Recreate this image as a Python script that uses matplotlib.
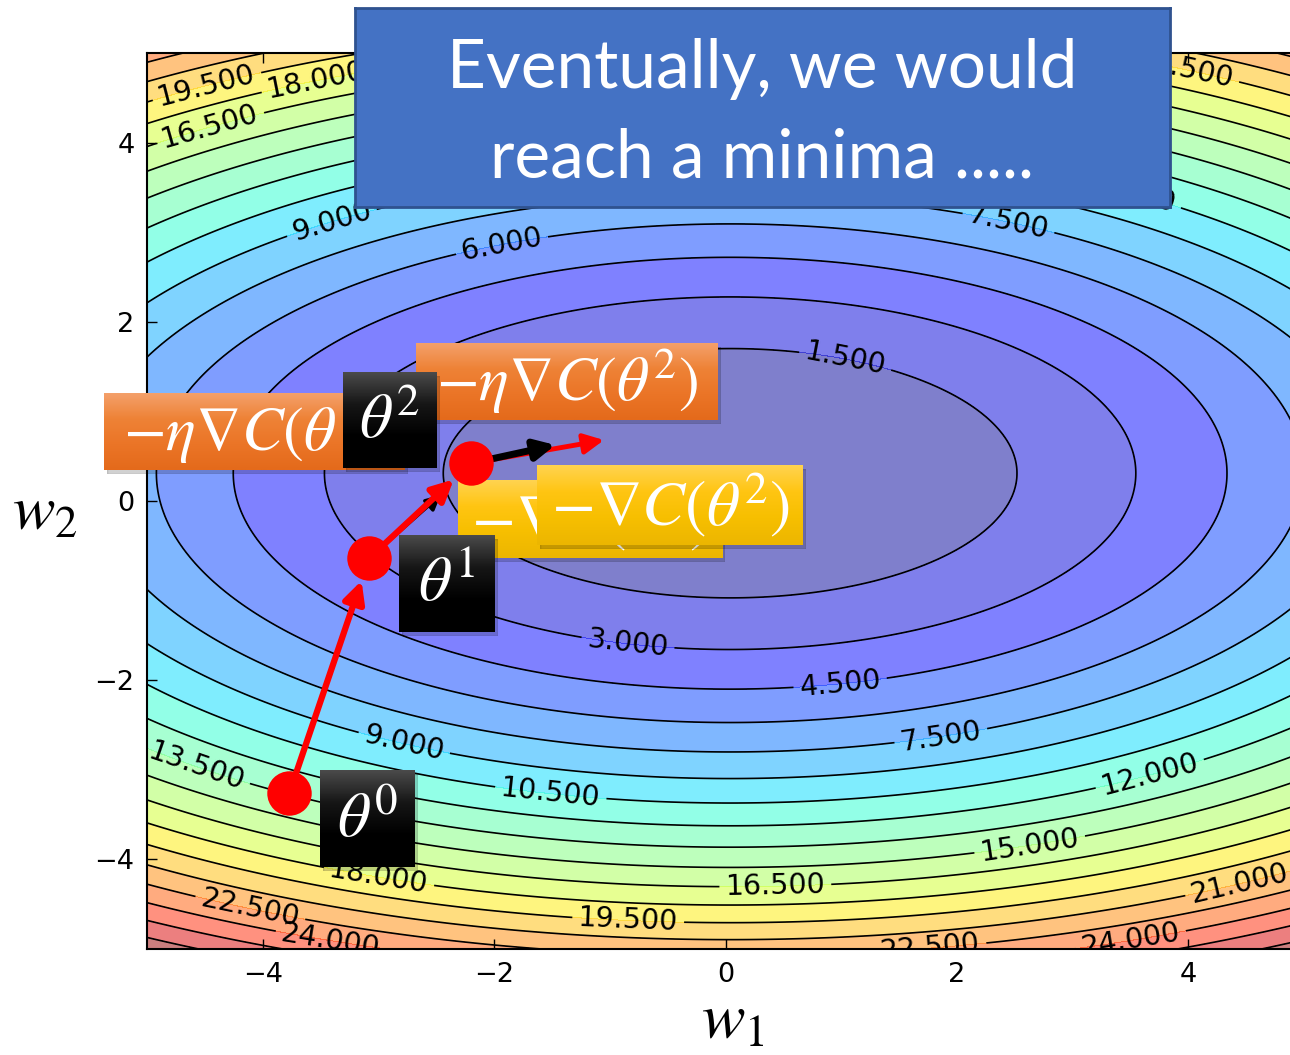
import numpy as np
import matplotlib
matplotlib.use("Agg")
import matplotlib.pyplot as plt
from matplotlib.colors import LinearSegmentedColormap
from matplotlib.patches import Rectangle

plt.rcParams['mathtext.fontset'] = 'stix'
plt.rcParams['font.family'] = ['DejaVu Sans']

FIG_W, FIG_H, DPI = 1290, 1055, 100

# ---------------- data ----------------
w1_limits = (-5, 5)
w2_limits = (-5, 5)
ticks = [-4, -2, 0, 2, 4]
levels = np.arange(0, 30, 1.5)
# cost surface C(w1, w2) = curv_w1*(w1-min_w1)^2 + curv_w2*(w2-min_w2)^2
min_w1, min_w2 = 0.04, 0.31
curv_w1, curv_w2 = 0.244, 0.775
# gradient-descent iterates theta^0, theta^1, theta^2
theta_w1 = [-3.77, -3.08, -2.20]
theta_w2 = [-3.26, -0.64, 0.42]
# tips of the -grad C arrows drawn from theta^1 and theta^2
grad_tip_w1 = [-2.46, -1.47]
grad_tip_w2 = [0.07, 0.625]
# tip of the next step from theta^2
step_tip_w1 = [-1.05]
step_tip_w2 = [0.68]
# contour label anchor points
label_w1 = [-4.50, -3.55, -4.45, -3.41, -1.94, 2.46, 3.50, 3.97, 1.04, -0.84, 0.99,
            1.86, -2.78, -1.51, 3.67, -4.58, 2.63, 0.43, -3.00, -0.84, 4.45, -4.10,
            -3.41, 1.77, 3.50]
label_w2 = [4.72, 4.78, 4.15, 3.14, 2.91, 3.19, 3.58, 4.83, 1.60, -1.55, -2.02,
            -2.61, -2.72, -3.26, -3.06, -3.00, -3.84, -4.25, -4.23, -4.65, -4.29,
            -4.50, -4.90, -4.96, -4.88]
title_lines = ["Eventually, we would", "reach a minima ....."]
theta_labels = [r'$\theta^0$', r'$\theta^1$', r'$\theta^2$']
step_labels = [r'$-\eta\nabla C(\theta^1)$', r'$-\eta\nabla C(\theta^2)$']
grad_labels = [r'$-\nabla C(\theta^1)$', r'$-\nabla C(\theta^2)$']

# ---------------- figure ----------------
fig = plt.figure(figsize=(FIG_W / DPI, FIG_H / DPI), dpi=DPI)


def px_rect(x0, y0, x1, y1):
    return [x0 / FIG_W, 1 - y1 / FIG_H, (x1 - x0) / FIG_W, (y1 - y0) / FIG_H]


ax_rect = px_rect(147, 53, 1304, 949)
ax = fig.add_axes(ax_rect)

g1 = np.linspace(w1_limits[0], w1_limits[1], 601)
g2 = np.linspace(w2_limits[0], w2_limits[1], 601)
G1, G2 = np.meshgrid(g1, g2)
C = curv_w1 * (G1 - min_w1) ** 2 + curv_w2 * (G2 - min_w2) ** 2

ax.contourf(G1, G2, C, levels=levels, cmap='jet', alpha=0.5)
cs = ax.contour(G1, G2, C, levels=levels, colors='black', linewidths=1.2)
ax.clabel(cs, fmt='%.3f', fontsize=20.5, inline=True, inline_spacing=6,
          manual=list(zip(label_w1, label_w2)))

ax.set_xlim(*w1_limits)
ax.set_ylim(*w2_limits)
ax.set_xticks(ticks)
ax.set_yticks(ticks)
ax.tick_params(direction='in', length=7, width=1, top=True, right=True,
               labelsize=19.5, pad=9, colors='black')
for sp in ax.spines.values():
    sp.set_linewidth(1.5)

renderer = fig.canvas.get_renderer()


def fit(t, target_px):
    bb = t.get_window_extent(renderer=renderer)
    t.set_fontsize(t.get_fontsize() * target_px / bb.width)
    return t.get_fontsize()


# axis labels
t = fig.text(12 / FIG_W, 1 - 512 / FIG_H, r'$w_2$', fontsize=38, ha='left', va='center')
fit(t, 66)
t = fig.text(733 / FIG_W, 1 - 1020 / FIG_H, r'$w_1$', fontsize=38, ha='center', va='center')
fit(t, 64)

# title box
tb = fig.add_axes(px_rect(355, 8, 1170, 207))
tb.set_facecolor('#4472C4')
tb.set_xticks([]); tb.set_yticks([])
for sp in tb.spines.values():
    sp.set_color('#2F528F'); sp.set_linewidth(2)
t1 = fig.text(762 / FIG_W, 1 - 88 / FIG_H, title_lines[0], fontsize=44, color='white',
              ha='center', va='baseline', family='Lato')
fs = fit(t1, 631)
fig.text(762 / FIG_W, 1 - 178 / FIG_H, title_lines[1], fontsize=fs, color='white',
         ha='center', va='baseline', family='Lato')


def box(x0, y0, x1, y1, colors):
    s = fig.add_axes(px_rect(x0 + 3, y0 + 4, x1 + 3, y1 + 4))
    s.set_axis_off()
    s.add_patch(Rectangle((0, 0), 1, 1, transform=s.transAxes, color='black', alpha=0.18))
    b = fig.add_axes(px_rect(x0, y0, x1, y1))
    b.set_axis_off()
    cmap = LinearSegmentedColormap.from_list('g', colors)
    b.imshow(np.linspace(0, 1, 64).reshape(-1, 1), cmap=cmap, aspect='auto',
             extent=(0, 1, 0, 1), origin='upper')
    b.set_xlim(0, 1); b.set_ylim(0, 1)
    return b


orange = ['#F4A06A', '#EE8236', '#EB7527', '#E46A1B']
yellow = ['#FFD34F', '#FFC512', '#F7BF00', '#ECB600']
black = ['#4a4a4a', '#161616', '#000000', '#000000']

# step boxes (orange)
b = box(104, 393, 405, 470, orange)
ts = b.text(0.5, 0.5, step_labels[0], transform=b.transAxes, color='white',
            ha='center', va='center', fontsize=34)
b = box(416, 343, 718, 420, orange)
t = b.text(0.5, 0.5, step_labels[1], transform=b.transAxes, color='white',
           ha='center', va='center', fontsize=34)
fs = fit(t, 263)
ts.set_fontsize(fs)

# gradient boxes (yellow)
b = box(458, 480, 722, 558, yellow)
tg = b.text(0.5, 0.5, grad_labels[0], transform=b.transAxes, color='white',
            ha='center', va='center', fontsize=34)
b = box(537, 465, 803, 545, yellow)
t = b.text(0.5, 0.5, grad_labels[1], transform=b.transAxes, color='white',
           ha='center', va='center', fontsize=34)
fs = fit(t, 240)
tg.set_fontsize(fs)

# theta boxes (black)
theta_boxes = [(320, 770, 415, 867), (399, 535, 495, 632), (343, 372, 437, 468)]
tfs = None
for (x0, y0, x1, y1), lab in zip(theta_boxes, theta_labels):
    b = box(x0, y0, x1, y1, black)
    t = b.text(0.5, 0.5, lab, transform=b.transAxes, color='white',
               ha='center', va='center', fontsize=40)
    if tfs is None:
        tfs = fit(t, 62)
    else:
        t.set_fontsize(tfs)

# overlay for arrows and points
ov = fig.add_axes(ax_rect)
ov.set_xlim(*w1_limits); ov.set_ylim(*w2_limits)
ov.set_axis_off()
ov.patch.set_visible(False)

# -grad arrow from theta^1 (black)
ov.annotate('', xy=(grad_tip_w1[0], grad_tip_w2[0]), xytext=(theta_w1[1], theta_w2[1]),
            arrowprops=dict(arrowstyle='-|>', color='black', lw=2.5, mutation_scale=22,
                            shrinkA=0, shrinkB=0))
# steps (red)
for i in range(2):
    ov.annotate('', xy=(theta_w1[i + 1], theta_w2[i + 1]), xytext=(theta_w1[i], theta_w2[i]),
                arrowprops=dict(arrowstyle='-|>', color='red', lw=4.5, mutation_scale=32,
                                shrinkA=0, shrinkB=17))
ov.annotate('', xy=(step_tip_w1[0], step_tip_w2[0]), xytext=(theta_w1[2], theta_w2[2]),
            arrowprops=dict(arrowstyle='-|>', color='red', lw=3.5, mutation_scale=30,
                            shrinkA=0, shrinkB=0))
ov.annotate('', xy=(grad_tip_w1[1], grad_tip_w2[1]), xytext=(theta_w1[2], theta_w2[2]),
            arrowprops=dict(arrowstyle='-|>', color='black', lw=5, mutation_scale=30,
                            shrinkA=0, shrinkB=0))
ov.plot(theta_w1, theta_w2, 'o', color='red', markersize=32, markeredgewidth=0, zorder=5)

fig.savefig('out.png', dpi=DPI)
